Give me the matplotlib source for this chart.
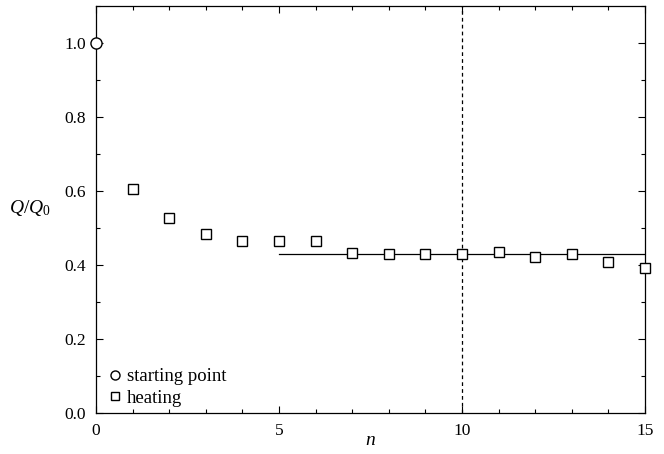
import numpy as np
import matplotlib
matplotlib.use("Agg")
from matplotlib import pyplot as plt
from matplotlib.ticker import MultipleLocator, FormatStrFormatter
from matplotlib.lines import Line2D

plt.rcParams['font.family'] = ['Liberation Serif', 'DejaVu Serif']
plt.rcParams['mathtext.fontset'] = 'custom'
plt.rcParams['mathtext.rm'] = 'Liberation Serif'
plt.rcParams['mathtext.it'] = 'Liberation Serif:italic'

# starting point and heating cycles
n_start = [0]
q_start = [1.0]
n_heat = [1, 2, 3, 4, 5, 6, 7, 8, 9, 10, 11, 12, 13, 14, 15]
q_heat = [0.605, 0.526, 0.483, 0.465, 0.466, 0.466, 0.433, 0.430, 0.430,
          0.430, 0.434, 0.421, 0.430, 0.409, 0.393]

# plateau level and the marker cycle
plateau_n = [5, 15]
plateau_q = [0.43, 0.43]
n_mark = 10

fig = plt.figure(figsize=(6.64, 4.54), dpi=100)
ax = fig.add_axes([0.1446, 0.0903, 0.8268, 0.8965])

ax.plot(plateau_n, plateau_q, color='black', lw=0.9, zorder=1)
ax.axvline(n_mark, color='black', lw=0.9, ls=(0, (3, 2.5)), zorder=1)

ax.plot(n_start, q_start, 'o', ms=8, mfc='white', mec='black', mew=1.0,
        clip_on=False, zorder=3)
ax.plot(n_heat, q_heat, 's', ms=7.5, mfc='white', mec='black', mew=1.0,
        clip_on=False, zorder=3)

ax.set_xlim(0, 15)
ax.set_ylim(0, 1.1)
ax.xaxis.set_major_locator(MultipleLocator(5))
ax.xaxis.set_minor_locator(MultipleLocator(1))
ax.yaxis.set_major_locator(MultipleLocator(0.2))
ax.yaxis.set_minor_locator(MultipleLocator(0.1))
ax.yaxis.set_major_formatter(FormatStrFormatter('%.1f'))
ax.tick_params(which='both', direction='in', top=True, right=True,
               labelsize=12.5, width=0.8)
ax.tick_params(which='major', length=5, pad=7)
ax.tick_params(which='minor', length=3)
for s in ax.spines.values():
    s.set_linewidth(0.9)

ax.set_xlabel('$n$', fontsize=14, labelpad=-5)
ax.set_ylabel('$Q/Q_0$', fontsize=14, rotation=0, va='center')
ax.yaxis.set_label_coords(-0.12, 0.504)

handles = [
    Line2D([], [], ls='none', marker='o', ms=6.5, mfc='white', mec='black', mew=1.0),
    Line2D([], [], ls='none', marker='s', ms=6, mfc='white', mec='black', mew=1.0),
]
ax.legend(handles, ['starting point', 'heating'], loc='lower left',
          frameon=False, fontsize=13.5, handletextpad=0.1, handlelength=1.0,
          labelspacing=0.25, borderaxespad=0.0, borderpad=0.0,
          bbox_to_anchor=(0.018, 0.015))

fig.savefig('out.png', dpi=100)
